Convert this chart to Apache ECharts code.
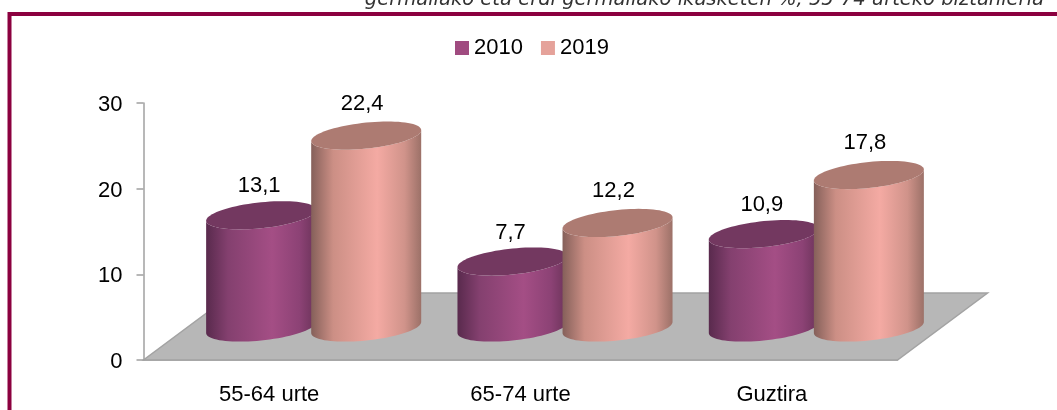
<!DOCTYPE html>
<html><head><meta charset="utf-8">
<style>html,body{margin:0;padding:0;background:#fff}#c{width:1057px;height:410px}</style>
<script src="https://cdn.jsdelivr.net/npm/echarts@6/dist/echarts.min.js"></script>
</head><body><div id="c"></div>
<script>
const categories = ['55-64 urte', '65-74 urte', 'Guztira'];
const years = ['2010', '2019'];
const values2010 = [13.1, 7.7, 10.9];
const values2019 = [22.4, 12.2, 17.8];
const yTicks = { min: 0, max: 30, interval: 10 };
const titleText = 'germaliako eta erdi germaliako ikasketen %, 55-74 urteko biztanleria';

const FONT = '"Liberation Sans",sans-serif';
const skins = [
  { top: '#733860', legend: '#A04B80', labelDx: -2, labelDy: 29, stops: [[0,'#592a4d'],[0.2,'#84406f'],[0.6,'#a44e85'],[0.85,'#8c4275'],[1,'#6b3359']] },
  { top: '#AD7B72', legend: '#E5A29A', labelDx: -4, labelDy: 32, stops: [[0,'#85605a'],[0.2,'#cc8f85'],[0.6,'#f4aaa3'],[0.85,'#d0938a'],[1,'#9c7168']] }
];
const depthX = 90, depthY = 67, baseX = 44.5, baseY = 32.5;
const rx = 55, tilt = 5.5, ry = 13;

function arc(cx, cy, from, to, n) {
  const pts = [];
  for (let i = 0; i <= n; i++) {
    const t = from + (to - from) * i / n;
    pts.push([cx + rx * Math.cos(t), cy - tilt * Math.cos(t) + ry * Math.sin(t)]);
  }
  return pts;
}

function cylinder(idx) {
  return function (params, api) {
    const cat = api.value(0), val = api.value(1);
    const band = api.size([1, 0])[0];
    const origin = api.coord([cat, 0]);
    const top = api.coord([cat, val]);
    const cx = origin[0] + baseX + (idx === 0 ? -1 : 1) * band * 0.209;
    const by = origin[1] - baseY, ty = top[1] - baseY;
    const skin = skins[idx];
    const body = arc(cx, by, Math.PI, 0, 40).concat(arc(cx, ty, 0, Math.PI, 40));
    return {
      type: 'group',
      children: [
        { type: 'polygon', shape: { points: body },
          style: { fill: new echarts.graphic.LinearGradient(0, 0, 1, 0,
            skin.stops.map(s => ({ offset: s[0], color: s[1] }))) } },
        { type: 'polygon', shape: { points: arc(cx, ty, 0, 2 * Math.PI, 80) },
          style: { fill: skin.top } },
        { type: 'text', x: cx + skin.labelDx, y: ty - skin.labelDy,
          style: { text: String(val).replace('.', ','), font: '22px ' + FONT, fill: '#000',
            textAlign: 'center', textVerticalAlign: 'middle' } }
      ]
    };
  };
}

function floor(params, api) {
  const band = api.size([1, 0])[0];
  const a = api.coord([0, 0]), b = api.coord([categories.length - 1, 0]);
  const l = a[0] - band / 2, r = b[0] + band / 2, y = a[1];
  return { type: 'polygon',
    shape: { points: [[l, y], [r, y], [r + depthX, y - depthY], [l + depthX, y - depthY]] },
    style: { fill: '#B7B7B7', stroke: '#A3A3A3', lineWidth: 1.5 } };
}

const chart = echarts.init(document.getElementById('c'), null, { renderer: 'canvas' });
chart.setOption({
  animation: false,
  backgroundColor: '#fff',
  grid: { left: 143.5, right: 1057 - 897.5, top: 103, bottom: 50, containLabel: false },
  legend: {
    data: years, left: 450, top: 32, itemWidth: 14, itemHeight: 14, itemGap: 18,
    icon: 'rect', textStyle: { fontFamily: FONT, fontSize: 22, color: '#000' }
  },
  xAxis: { type: 'category', data: categories, boundaryGap: true,
    axisLine: { lineStyle: { color: '#A0A0A0', width: 1.5 } },
    axisTick: { alignWithLabel: false, length: 7, lineStyle: { color: '#A0A0A0', width: 1.5 } },
    axisLabel: { fontFamily: FONT, fontSize: 22, color: '#000', margin: 24 } },
  yAxis: { type: 'value', min: yTicks.min, max: yTicks.max, interval: yTicks.interval,
    splitLine: { show: false },
    axisLine: { show: true, lineStyle: { color: '#A0A0A0', width: 1.5 } },
    axisTick: { show: true, length: 7, lineStyle: { color: '#A0A0A0', width: 1.5 } },
    axisLabel: { fontFamily: FONT, fontSize: 22, color: '#000', margin: 21, verticalAlign: 'top', lineHeight: 4 } },
  series: [
    { type: 'custom', name: 'floor', renderItem: floor, data: [[0, 0]], silent: true, z: 1,
      encode: { x: 0, y: 1 } },
    { type: 'custom', name: years[0], renderItem: cylinder(0), z: 2,
      data: values2010.map((v, i) => [i, v]), itemStyle: { color: skins[0].legend }, encode: { x: 0, y: 1 } },
    { type: 'custom', name: years[1], renderItem: cylinder(1), z: 3,
      data: values2019.map((v, i) => [i, v]), itemStyle: { color: skins[1].legend }, encode: { x: 0, y: 1 } }
  ],
  graphic: [
    { type: 'rect', z: 0, silent: true, shape: { x: 9.5, y: 14, width: 1200, height: 600 },
      style: { fill: 'none', stroke: '#8B003F', lineWidth: 4 } },
    { type: 'text', z: 5, silent: true, x: 1044, y: -10,
      style: { text: titleText, font: 'italic 19.5px "DejaVu Sans",sans-serif', fill: '#333', textAlign: 'right', textVerticalAlign: 'top' } }
  ]
});
</script></body></html>
